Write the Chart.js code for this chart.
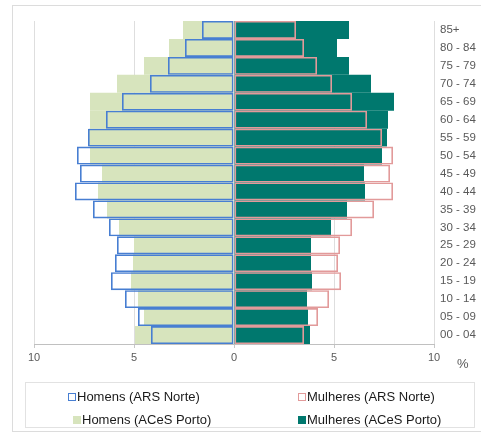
<!DOCTYPE html>
<html>
<head>
<meta charset="utf-8">
<script src="https://cdn.jsdelivr.net/npm/chart.js@4/dist/chart.umd.min.js"></script>
<style>
  html, body { margin: 0; padding: 0; background: #fff; }
  #wrap { position: relative; width: 481px; height: 434px; overflow: hidden; font-family: "Liberation Sans", Arial, sans-serif; }
  #frame { position: absolute; left: 12px; top: 5px; width: 480px; height: 427px; border: 1px solid #dcdcdc; box-sizing: border-box; }
  #chart { position: absolute; left: 0; top: 0; }
  #pct { position: absolute; left: 457px; top: 356px; font-size: 13px; color: #595959; }
  #legend { position: absolute; left: 25px; top: 382px; width: 450px; height: 46px; border: 1px solid #e2e2e2; box-sizing: border-box; }
  .item { position: absolute; font-size: 13px; color: #1a1a1a; white-space: nowrap; line-height: 15px; }
  .box { display: inline-block; width: 8px; height: 8px; margin-right: 1px; vertical-align: 0px; box-sizing: border-box; }
</style>
</head>
<body>
<div id="wrap">
  <div id="frame"></div>
  <canvas id="chart" width="481" height="434"></canvas>
  <div id="pct">%</div>
  <div id="legend"></div>
</div>
<script>
// Age groups, oldest at the top
const ageGroups = ['85+', '80 - 84', '75 - 79', '70 - 74', '65 - 69', '60 - 64', '55 - 59', '50 - 54', '45 - 49',
                   '40 - 44', '35 - 39', '30 - 34', '25 - 29', '20 - 24', '15 - 19', '10 - 14', '05 - 09', '00 - 04'];

// Share of population (%) per age group
const homensARS    = [1.6, 2.45, 3.3, 4.2, 5.6, 6.4, 7.3, 7.85, 7.7, 7.95, 7.05, 6.25, 5.85, 5.95, 6.15, 5.45, 4.8, 4.15];
const mulheresARS  = [3.1, 3.5, 4.15, 4.9, 5.9, 6.65, 7.4, 7.95, 7.8, 7.95, 7.0, 5.9, 5.3, 5.2, 5.35, 4.75, 4.2, 3.5];
const homensACeS   = [2.55, 3.25, 4.5, 5.85, 7.2, 7.2, 7.25, 7.2, 6.6, 6.8, 6.35, 5.75, 5.0, 5.05, 5.15, 4.8, 4.5, 4.95];
const mulheresACeS = [5.75, 5.15, 5.75, 6.85, 8.0, 7.7, 7.65, 7.4, 6.5, 6.55, 5.65, 4.85, 3.85, 3.85, 3.9, 3.65, 3.7, 3.8];

const seriesLabels = ['Homens (ARS Norte)', 'Mulheres (ARS Norte)', 'Homens (ACeS Porto)', 'Mulheres (ACeS Porto)'];
const xTicks = [-10, -5, 0, 5, 10];

const BLUE = '#477ed2', PINK = '#e29a9a', GREEN = '#d7e4bd', TEAL = '#00786e';

const outline = (label, values, color, sign) => ({
  label, data: values.map(v => sign * v),
  backgroundColor: 'rgba(0,0,0,0)', borderColor: color, borderWidth: 1.6, borderSkipped: false
});
const filled = (label, values, color, sign) => ({
  label, data: values.map(v => sign * v),
  backgroundColor: color, borderWidth: 0
});

// Outline (ARS) series listed first so they are painted over the filled ones
const datasets = [
  outline(seriesLabels[0], homensARS, BLUE, -1),
  outline(seriesLabels[1], mulheresARS, PINK, 1),
  filled(seriesLabels[2], homensACeS, GREEN, -1),
  filled(seriesLabels[3], mulheresACeS, TEAL, 1)
];

new Chart(document.getElementById('chart'), {
  type: 'bar',
  data: { labels: ageGroups, datasets },
  options: {
    indexAxis: 'y',
    responsive: false,
    animation: false,
    layout: { padding: { left: 34, top: 21, right: 0, bottom: 70 } },
    plugins: { legend: { display: false }, tooltip: { enabled: false } },
    datasets: { bar: { grouped: false, barPercentage: 1, categoryPercentage: 1, inflateAmount: 0 } },
    scales: {
      x: {
        min: -10, max: 10,
        afterBuildTicks: s => { s.ticks = xTicks.map(v => ({ value: v })); },
        afterFit: s => { s.height = 20; },
        grid: { color: '#dedede', lineWidth: 1, tickLength: 4, tickColor: '#c8c8c8' },
        border: { color: '#c0c0c0' },
        ticks: { callback: v => Math.abs(v), color: '#595959', font: { family: 'Liberation Sans, Arial', size: 11 }, padding: 3 }
      },
      y: {
        position: 'right',
        afterFit: s => { s.width = 47; },
        grid: { display: false, drawTicks: false },
        border: { display: false },
        ticks: { color: '#595959', font: { family: 'Liberation Sans, Arial', size: 11.5 }, padding: 6, autoSkip: false }
      }
    }
  }
});

// Legend in two columns: outlines on the first row, fills on the second
const legendPos = [[42, 6], [272, 6], [47, 29], [272, 29]];
const legendSwatch = [
  'border:1.5px solid ' + BLUE,
  'border:1.5px solid ' + PINK,
  'background:' + GREEN,
  'background:' + TEAL
];
const legend = document.getElementById('legend');
seriesLabels.forEach((txt, i) => {
  const el = document.createElement('div');
  el.className = 'item';
  el.style.left = legendPos[i][0] + 'px';
  el.style.top = legendPos[i][1] + 'px';
  const sw = document.createElement('span');
  sw.className = 'box';
  sw.style.cssText = legendSwatch[i];
  el.appendChild(sw);
  el.appendChild(document.createTextNode(txt));
  legend.appendChild(el);
});
</script>
</body>
</html>
